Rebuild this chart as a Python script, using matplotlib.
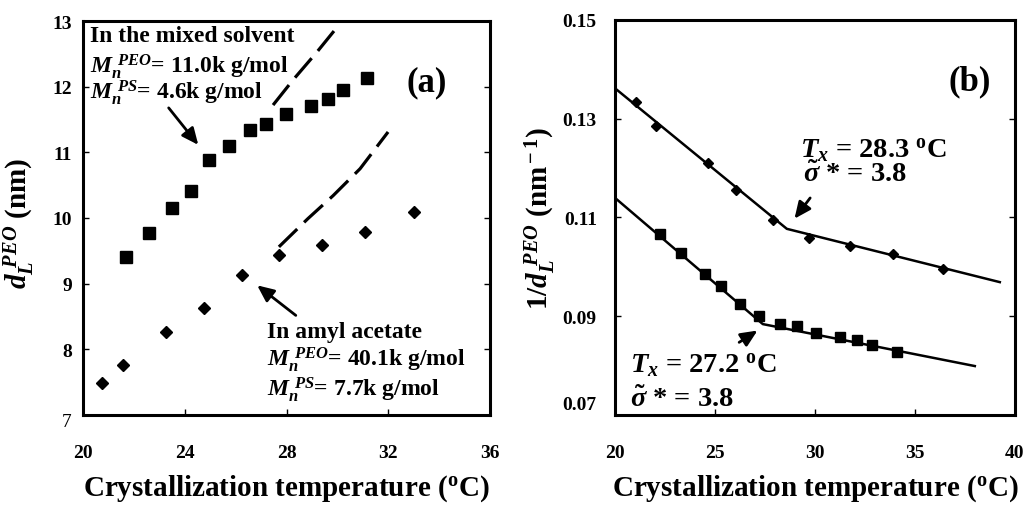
import matplotlib
matplotlib.use("Agg")
import matplotlib.pyplot as plt

# ---------------- data ----------------
# panel (a): lamellar thickness vs crystallization temperature
mixed_T = [21.69, 22.59, 23.50, 24.25, 24.95, 25.74, 26.56, 27.19, 27.98, 28.96, 29.63, 30.22, 31.16]
mixed_d = [9.41, 9.77, 10.15, 10.41, 10.88, 11.10, 11.34, 11.43, 11.58, 11.71, 11.81, 11.95, 12.13]
amyl_T = [20.75, 21.57, 23.26, 24.76, 26.25, 27.70, 29.39, 31.08, 33.01]
amyl_d = [7.49, 7.76, 8.27, 8.63, 9.13, 9.44, 9.59, 9.79, 10.09]
mixed_fit_T = [27.47, 28.25, 29.20, 29.87]
mixed_fit_d = [11.72, 12.10, 12.53, 12.85]
amyl_fit_T = [27.70, 28.84, 29.83, 30.89, 31.99]
amyl_fit_d = [9.56, 9.99, 10.34, 10.75, 11.31]

# panel (b): 1/d vs crystallization temperature
b_dia_T = [21.05, 22.05, 24.65, 26.05, 27.90, 29.70, 31.75, 33.90, 36.40]
b_dia_inv = [0.1334, 0.1285, 0.1210, 0.1156, 0.1095, 0.1058, 0.1042, 0.1026, 0.0996]
b_dia_fit_T = [20.0, 28.6, 39.25]
b_dia_fit_inv = [0.1362, 0.1077, 0.0969]
b_sq_T = [22.25, 23.30, 24.50, 25.30, 26.25, 27.20, 28.25, 29.10, 30.05, 31.25, 32.10, 32.85, 34.10]
b_sq_inv = [0.1067, 0.1028, 0.0986, 0.0961, 0.0925, 0.0900, 0.0884, 0.0880, 0.0866, 0.0858, 0.0852, 0.0842, 0.0828]
b_sq_fit_T = [20.0, 27.4, 38.0]
b_sq_fit_inv = [0.1140, 0.0884, 0.0799]

a_xticks = [20, 24, 28, 32, 36]
a_yticks = [7, 8, 9, 10, 11, 12, 13]
b_xticks = [20, 25, 30, 35, 40]
b_yticks = [0.07, 0.09, 0.11, 0.13, 0.15]

# ---------------- style ----------------
SERIF = "Liberation Serif"
plt.rcParams["font.family"] = [SERIF, "DejaVu Serif"]
plt.rcParams["font.weight"] = "bold"
plt.rcParams["mathtext.fontset"] = "custom"
plt.rcParams["mathtext.rm"] = "Liberation Serif:bold"
plt.rcParams["mathtext.bf"] = "Liberation Serif:bold"
plt.rcParams["mathtext.it"] = "Liberation Serif:italic:bold"
plt.rcParams["mathtext.sf"] = "Liberation Serif:bold"

TICK_FS = 14

fig = plt.figure(figsize=(10.23, 5.06), dpi=100)
axa = fig.add_axes([0.0811, 0.178, 0.398, 0.7785])
axb = fig.add_axes([0.601, 0.178, 0.391, 0.7805])

for ax in (axa, axb):
    for s in ax.spines.values():
        s.set_linewidth(2.2)
    ax.tick_params(direction="in", length=4, width=1, top=False, right=True)
    ax.tick_params(axis="x", pad=21)

xlab = r"Crystallization temperature ($^{\rm o}$C)"

# ---- panel (a) ----
axa.plot(mixed_T, mixed_d, ls="none", marker="s", ms=8.5, color="black")
axa.plot(amyl_T, amyl_d, ls="none", marker="D", ms=6.4, color="black")
axa.plot(mixed_fit_T, mixed_fit_d, color="black", lw=2.3, dashes=(8, 3))
axa.plot(amyl_fit_T, amyl_fit_d, color="black", lw=2.3, dashes=(8, 3))
axa.set_xlim(20, 36)
axa.set_ylim(7, 13)
axa.set_xticks(a_xticks)
axa.set_yticks(a_yticks)
axa.set_xticklabels([str(v) for v in a_xticks], fontweight="bold", fontsize=TICK_FS)
# lowest y label sits a little below its tick in the reference: drawn separately
axa.set_yticklabels([""] + [str(v) for v in a_yticks[1:]], fontweight="bold", fontsize=TICK_FS)
axa.annotate(str(a_yticks[0]), xy=(0, a_yticks[0]), xycoords=("axes fraction", "data"),
             xytext=(-11, -7), textcoords="offset pixels", ha="right", va="center",
             fontsize=TICK_FS, fontweight="normal")
axa.tick_params(axis="y", pad=8)
axa.set_xlabel(xlab, fontsize=21, fontweight="bold", labelpad=8)
axa.set_ylabel(r"$d_L^{\ PEO}$ (nm)", fontsize=21, fontweight="bold")
axa.yaxis.set_label_coords(-0.113, 0.49)

tk = dict(fontsize=17, fontweight="bold", ha="left", va="baseline")
axa.text(20.27, 12.69, "In the mixed solvent", **tk)
axa.text(20.27, 12.22, r"$M_n^{\ PEO}$= 11.0k g/mol", **tk)
axa.text(20.27, 11.82, r"$M_n^{\ PS}$= 4.6k g/mol", **tk)
axa.text(27.23, 8.19, "In amyl acetate", **tk)
axa.text(27.23, 7.76, r"$M_n^{\ PEO}$= 40.1k g/mol", **tk)
axa.text(27.23, 7.31, r"$M_n^{\ PS}$= 7.7k g/mol", **tk)
axa.text(33.5, 12.07, "(a)", fontsize=25, fontweight="bold", ha="center", va="center")
arr = dict(arrowstyle="-|>,head_length=1.0,head_width=0.45", color="black", lw=2)
axa.annotate("", xy=(24.6, 11.08), xytext=(23.3, 11.71), arrowprops=arr)
axa.annotate("", xy=(26.76, 9.0), xytext=(28.45, 8.49), arrowprops=arr)

# ---- panel (b) ----
axb.plot(b_dia_fit_T, b_dia_fit_inv, color="black", lw=1.8)
axb.plot(b_sq_fit_T, b_sq_fit_inv, color="black", lw=1.8)
axb.plot(b_dia_T, b_dia_inv, ls="none", marker="D", ms=4.8, color="black")
axb.plot(b_sq_T, b_sq_inv, ls="none", marker="s", ms=7.5, color="black")
axb.set_xlim(20, 40)
axb.set_ylim(0.07, 0.15)
axb.set_xticks(b_xticks)
axb.set_yticks(b_yticks)
axb.set_xticklabels([str(v) for v in b_xticks], fontweight="bold", fontsize=TICK_FS)
# lowest y label sits a little above its tick in the reference: drawn separately
axb.set_yticklabels([""] + [f"{v:.2f}" for v in b_yticks[1:]], fontweight="bold", fontsize=TICK_FS)
axb.annotate(f"{b_yticks[0]:.2f}", xy=(0, b_yticks[0]), xycoords=("axes fraction", "data"),
             xytext=(-18, 10), textcoords="offset pixels", ha="right", va="center",
             fontsize=TICK_FS, fontweight="bold")
axb.tick_params(axis="y", pad=13)
axb.set_xlabel(xlab, fontsize=21, fontweight="bold", labelpad=8)
axb.set_ylabel(r"$1/d_L^{\ PEO}$ (nm$^{\rm -1}$)", fontsize=21, fontweight="bold")
axb.yaxis.set_label_coords(-0.1425, 0.5)

tb = dict(fontsize=20.5, fontweight="bold", ha="left", va="baseline")
axb.text(29.25, 0.1225, r"$T_x$ = 28.3 $^{\rm o}$C", **tb)
axb.text(29.4, 0.1174, r"$\tilde{\sigma}$ * = 3.8", **tb)
axb.text(20.75, 0.0789, r"$T_x$ = 27.2 $^{\rm o}$C", **tb)
axb.text(20.75, 0.0718, r"$\tilde{\sigma}$ * = 3.8", **tb)
axb.text(37.75, 0.1376, "(b)", fontsize=25, fontweight="bold", ha="center", va="center")
axb.annotate("", xy=(28.9, 0.1093), xytext=(29.85, 0.1144), arrowprops=arr)
axb.annotate("", xy=(27.25, 0.0874), xytext=(26.1, 0.0844), arrowprops=arr)

fig.savefig("out.png", dpi=100)
